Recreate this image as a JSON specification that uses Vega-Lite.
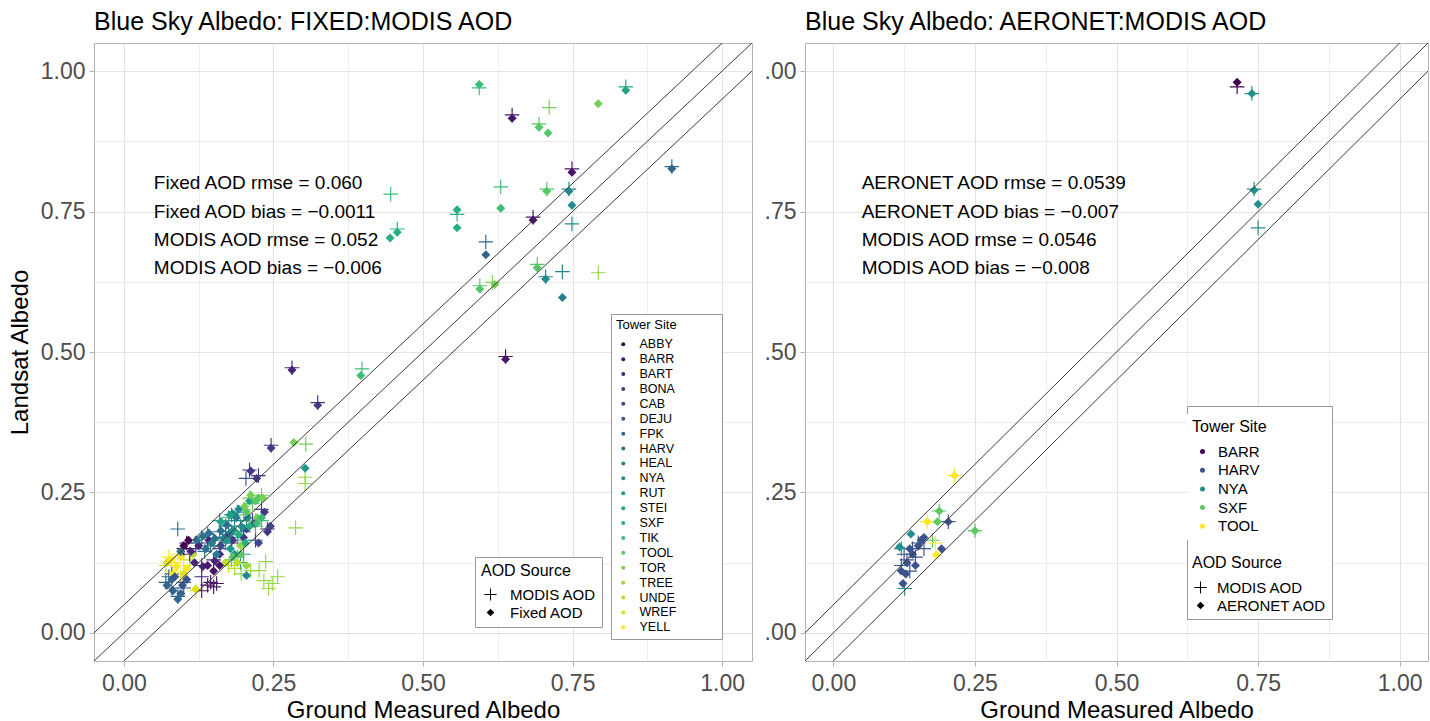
{
"$schema": "https://vega.github.io/schema/vega-lite/v6.json",
"background": "white",
"padding": {"left": 7, "top": 9, "right": 0, "bottom": 0},
"spacing": 10,
"config": {
  "font": "Liberation Sans",
  "view": {"stroke": "#b3b3b3", "strokeWidth": 1},
  "axis": {"domain": false, "tickColor": "#b3b3b3", "tickSize": 5, "labelPadding": 6, "labelFontSize": 23, "labelColor": "#4d4d4d", "titleFontSize": 24, "titleFontWeight": "normal", "titleColor": "black", "gridColor": "#e3e3e3", "labelOverlap": false, "labelFlush": false},
  "title": {"fontSize": 25, "fontWeight": "normal", "anchor": "start", "frame": "group", "color": "black", "offset": 8},
  "legend": {"titleFontWeight": "normal", "titleColor": "black", "labelColor": "black", "fillColor": "white"}
},
"resolve": {"scale": {"color": "independent", "shape": "independent"}, "legend": {"color": "independent", "shape": "independent"}},
"datasets": {
  "reflines": [
    {"x_start": -0.3, "y_start": -0.25, "x_end": 1.3, "y_end": 1.35},
    {"x_start": -0.3, "y_start": -0.3, "x_end": 1.3, "y_end": 1.3},
    {"x_start": -0.3, "y_start": -0.35, "x_end": 1.3, "y_end": 1.25}
  ],
  "leftNotes": [
    {"note": "Fixed AOD rmse = 0.060", "ground": 0.05, "landsat": 0.8},
    {"note": "Fixed AOD bias = −0.0011", "ground": 0.05, "landsat": 0.75},
    {"note": "MODIS AOD rmse = 0.052", "ground": 0.05, "landsat": 0.7},
    {"note": "MODIS AOD bias = −0.006", "ground": 0.05, "landsat": 0.65}
  ],
  "rightNotes": [
    {"note": "AERONET AOD rmse = 0.0539", "ground": 0.05, "landsat": 0.8},
    {"note": "AERONET AOD bias = −0.007", "ground": 0.05, "landsat": 0.75},
    {"note": "MODIS AOD rmse = 0.0546", "ground": 0.05, "landsat": 0.7},
    {"note": "MODIS AOD bias = −0.008", "ground": 0.05, "landsat": 0.65}
  ],
  "left": [
    {"site":"TIK","aod":"MODIS AOD","ground":0.594,"landsat":0.970},
    {"site":"TOR","aod":"MODIS AOD","ground":0.711,"landsat":0.935},
    {"site":"BARR","aod":"MODIS AOD","ground":0.649,"landsat":0.922},
    {"site":"TOOL","aod":"MODIS AOD","ground":0.694,"landsat":0.906},
    {"site":"STEI","aod":"MODIS AOD","ground":0.839,"landsat":0.972},
    {"site":"FPK","aod":"MODIS AOD","ground":0.916,"landsat":0.830},
    {"site":"BARR","aod":"MODIS AOD","ground":0.749,"landsat":0.826},
    {"site":"TIK","aod":"MODIS AOD","ground":0.630,"landsat":0.794},
    {"site":"TOOL","aod":"MODIS AOD","ground":0.707,"landsat":0.790},
    {"site":"NYA","aod":"MODIS AOD","ground":0.744,"landsat":0.790},
    {"site":"NYA","aod":"MODIS AOD","ground":0.749,"landsat":0.728},
    {"site":"BARR","aod":"MODIS AOD","ground":0.684,"landsat":0.740},
    {"site":"SXF","aod":"MODIS AOD","ground":0.557,"landsat":0.745},
    {"site":"FPK","aod":"MODIS AOD","ground":0.605,"landsat":0.696},
    {"site":"TOOL","aod":"MODIS AOD","ground":0.691,"landsat":0.656},
    {"site":"HEAL","aod":"MODIS AOD","ground":0.733,"landsat":0.643},
    {"site":"NYA","aod":"MODIS AOD","ground":0.705,"landsat":0.634},
    {"site":"TREE","aod":"MODIS AOD","ground":0.793,"landsat":0.641},
    {"site":"TOOL","aod":"MODIS AOD","ground":0.595,"landsat":0.618},
    {"site":"TOR","aod":"MODIS AOD","ground":0.616,"landsat":0.624},
    {"site":"BARR","aod":"MODIS AOD","ground":0.638,"landsat":0.492},
    {"site":"TIK","aod":"MODIS AOD","ground":0.446,"landsat":0.781},
    {"site":"SXF","aod":"MODIS AOD","ground":0.457,"landsat":0.719},
    {"site":"TIK","aod":"MODIS AOD","ground":0.398,"landsat":0.470},
    {"site":"BART","aod":"MODIS AOD","ground":0.281,"landsat":0.472},
    {"site":"BONA","aod":"MODIS AOD","ground":0.324,"landsat":0.410},
    {"site":"BONA","aod":"MODIS AOD","ground":0.246,"landsat":0.334},
    {"site":"TOR","aod":"MODIS AOD","ground":0.304,"landsat":0.336},
    {"site":"TREE","aod":"MODIS AOD","ground":0.303,"landsat":0.277},
    {"site":"TREE","aod":"MODIS AOD","ground":0.303,"landsat":0.266},
    {"site":"TREE","aod":"MODIS AOD","ground":0.287,"landsat":0.187},
    {"site":"YELL","aod":"MODIS AOD","ground":0.075,"landsat":0.135},
    {"site":"YELL","aod":"MODIS AOD","ground":0.085,"landsat":0.125},
    {"site":"YELL","aod":"MODIS AOD","ground":0.09,"landsat":0.14},
    {"site":"YELL","aod":"MODIS AOD","ground":0.08,"landsat":0.11},
    {"site":"YELL","aod":"MODIS AOD","ground":0.10,"landsat":0.12},
    {"site":"WREF","aod":"MODIS AOD","ground":0.07,"landsat":0.12},
    {"site":"WREF","aod":"MODIS AOD","ground":0.095,"landsat":0.10},
    {"site":"WREF","aod":"MODIS AOD","ground":0.12,"landsat":0.075},
    {"site":"UNDE","aod":"MODIS AOD","ground":0.11,"landsat":0.13},
    {"site":"UNDE","aod":"MODIS AOD","ground":0.175,"landsat":0.12},
    {"site":"UNDE","aod":"MODIS AOD","ground":0.185,"landsat":0.115},
    {"site":"FPK","aod":"MODIS AOD","ground":0.07,"landsat":0.09},
    {"site":"FPK","aod":"MODIS AOD","ground":0.08,"landsat":0.08},
    {"site":"FPK","aod":"MODIS AOD","ground":0.09,"landsat":0.065},
    {"site":"FPK","aod":"MODIS AOD","ground":0.075,"landsat":0.10},
    {"site":"DEJU","aod":"MODIS AOD","ground":0.08,"landsat":0.105},
    {"site":"DEJU","aod":"MODIS AOD","ground":0.10,"landsat":0.09},
    {"site":"DEJU","aod":"MODIS AOD","ground":0.10,"landsat":0.08},
    {"site":"BART","aod":"MODIS AOD","ground":0.11,"landsat":0.14},
    {"site":"BART","aod":"MODIS AOD","ground":0.12,"landsat":0.15},
    {"site":"BART","aod":"MODIS AOD","ground":0.13,"landsat":0.12},
    {"site":"BART","aod":"MODIS AOD","ground":0.14,"landsat":0.16},
    {"site":"BART","aod":"MODIS AOD","ground":0.15,"landsat":0.13},
    {"site":"BART","aod":"MODIS AOD","ground":0.13,"landsat":0.10},
    {"site":"BARR","aod":"MODIS AOD","ground":0.14,"landsat":0.085},
    {"site":"BARR","aod":"MODIS AOD","ground":0.15,"landsat":0.082},
    {"site":"BARR","aod":"MODIS AOD","ground":0.13,"landsat":0.075},
    {"site":"BARR","aod":"MODIS AOD","ground":0.155,"landsat":0.088},
    {"site":"BARR","aod":"MODIS AOD","ground":0.145,"landsat":0.09},
    {"site":"ABBY","aod":"MODIS AOD","ground":0.10,"landsat":0.15},
    {"site":"ABBY","aod":"MODIS AOD","ground":0.105,"landsat":0.16},
    {"site":"BONA","aod":"MODIS AOD","ground":0.21,"landsat":0.29},
    {"site":"BONA","aod":"MODIS AOD","ground":0.225,"landsat":0.28},
    {"site":"BONA","aod":"MODIS AOD","ground":0.23,"landsat":0.22},
    {"site":"BONA","aod":"MODIS AOD","ground":0.215,"landsat":0.2},
    {"site":"BONA","aod":"MODIS AOD","ground":0.24,"landsat":0.185},
    {"site":"BONA","aod":"MODIS AOD","ground":0.18,"landsat":0.16},
    {"site":"DEJU","aod":"MODIS AOD","ground":0.204,"landsat":0.275},
    {"site":"CAB","aod":"MODIS AOD","ground":0.16,"landsat":0.15},
    {"site":"CAB","aod":"MODIS AOD","ground":0.17,"landsat":0.17},
    {"site":"CAB","aod":"MODIS AOD","ground":0.2,"landsat":0.18},
    {"site":"CAB","aod":"MODIS AOD","ground":0.22,"landsat":0.165},
    {"site":"HARV","aod":"MODIS AOD","ground":0.12,"landsat":0.16},
    {"site":"HARV","aod":"MODIS AOD","ground":0.13,"landsat":0.17},
    {"site":"HARV","aod":"MODIS AOD","ground":0.14,"landsat":0.175},
    {"site":"HARV","aod":"MODIS AOD","ground":0.15,"landsat":0.165},
    {"site":"HARV","aod":"MODIS AOD","ground":0.16,"landsat":0.18},
    {"site":"HARV","aod":"MODIS AOD","ground":0.17,"landsat":0.19},
    {"site":"HARV","aod":"MODIS AOD","ground":0.135,"landsat":0.145},
    {"site":"HARV","aod":"MODIS AOD","ground":0.09,"landsat":0.185},
    {"site":"HEAL","aod":"MODIS AOD","ground":0.145,"landsat":0.155},
    {"site":"HEAL","aod":"MODIS AOD","ground":0.165,"landsat":0.17},
    {"site":"HEAL","aod":"MODIS AOD","ground":0.175,"landsat":0.175},
    {"site":"HEAL","aod":"MODIS AOD","ground":0.185,"landsat":0.2},
    {"site":"NYA","aod":"MODIS AOD","ground":0.18,"landsat":0.21},
    {"site":"NYA","aod":"MODIS AOD","ground":0.19,"landsat":0.215},
    {"site":"NYA","aod":"MODIS AOD","ground":0.195,"landsat":0.19},
    {"site":"NYA","aod":"MODIS AOD","ground":0.205,"landsat":0.2},
    {"site":"RUT","aod":"MODIS AOD","ground":0.17,"landsat":0.16},
    {"site":"RUT","aod":"MODIS AOD","ground":0.18,"landsat":0.18},
    {"site":"RUT","aod":"MODIS AOD","ground":0.2,"landsat":0.14},
    {"site":"RUT","aod":"MODIS AOD","ground":0.195,"landsat":0.125},
    {"site":"STEI","aod":"MODIS AOD","ground":0.16,"landsat":0.2},
    {"site":"STEI","aod":"MODIS AOD","ground":0.175,"landsat":0.205},
    {"site":"TOOL","aod":"MODIS AOD","ground":0.18,"landsat":0.13},
    {"site":"TOOL","aod":"MODIS AOD","ground":0.19,"landsat":0.135},
    {"site":"TOOL","aod":"MODIS AOD","ground":0.2,"landsat":0.21},
    {"site":"TOOL","aod":"MODIS AOD","ground":0.215,"landsat":0.23},
    {"site":"TOR","aod":"MODIS AOD","ground":0.2,"landsat":0.22},
    {"site":"TOR","aod":"MODIS AOD","ground":0.21,"landsat":0.24},
    {"site":"TOR","aod":"MODIS AOD","ground":0.23,"landsat":0.245},
    {"site":"TOR","aod":"MODIS AOD","ground":0.22,"landsat":0.2},
    {"site":"TREE","aod":"MODIS AOD","ground":0.237,"landsat":0.127},
    {"site":"TREE","aod":"MODIS AOD","ground":0.226,"landsat":0.111},
    {"site":"TREE","aod":"MODIS AOD","ground":0.234,"landsat":0.093},
    {"site":"TREE","aod":"MODIS AOD","ground":0.248,"landsat":0.088},
    {"site":"TREE","aod":"MODIS AOD","ground":0.212,"landsat":0.111},
    {"site":"TREE","aod":"MODIS AOD","ground":0.196,"landsat":0.105},
    {"site":"TREE","aod":"MODIS AOD","ground":0.242,"landsat":0.079},
    {"site":"TREE","aod":"MODIS AOD","ground":0.257,"landsat":0.10},
    {"site":"SXF","aod":"MODIS AOD","ground":0.19,"landsat":0.17},
    {"site":"SXF","aod":"MODIS AOD","ground":0.2,"landsat":0.165},
    {"site":"TIK","aod":"MODIS AOD","ground":0.22,"landsat":0.19},
    {"site":"TIK","aod":"MODIS AOD","ground":0.23,"landsat":0.2},
    {"site":"TIK","aod":"Fixed AOD","ground":0.594,"landsat":0.976},
    {"site":"BARR","aod":"Fixed AOD","ground":0.649,"landsat":0.916},
    {"site":"TOOL","aod":"Fixed AOD","ground":0.694,"landsat":0.900},
    {"site":"TOOL","aod":"Fixed AOD","ground":0.709,"landsat":0.890},
    {"site":"TOR","aod":"Fixed AOD","ground":0.793,"landsat":0.942},
    {"site":"STEI","aod":"Fixed AOD","ground":0.839,"landsat":0.966},
    {"site":"FPK","aod":"Fixed AOD","ground":0.916,"landsat":0.826},
    {"site":"BARR","aod":"Fixed AOD","ground":0.749,"landsat":0.820},
    {"site":"TIK","aod":"Fixed AOD","ground":0.630,"landsat":0.756},
    {"site":"TOOL","aod":"Fixed AOD","ground":0.707,"landsat":0.786},
    {"site":"NYA","aod":"Fixed AOD","ground":0.744,"landsat":0.786},
    {"site":"NYA","aod":"Fixed AOD","ground":0.749,"landsat":0.761},
    {"site":"BARR","aod":"Fixed AOD","ground":0.684,"landsat":0.735},
    {"site":"SXF","aod":"Fixed AOD","ground":0.557,"landsat":0.753},
    {"site":"SXF","aod":"Fixed AOD","ground":0.557,"landsat":0.721},
    {"site":"FPK","aod":"Fixed AOD","ground":0.605,"landsat":0.673},
    {"site":"TOOL","aod":"Fixed AOD","ground":0.691,"landsat":0.650},
    {"site":"NYA","aod":"Fixed AOD","ground":0.705,"landsat":0.630},
    {"site":"HEAL","aod":"Fixed AOD","ground":0.733,"landsat":0.597},
    {"site":"TOOL","aod":"Fixed AOD","ground":0.595,"landsat":0.612},
    {"site":"TOR","aod":"Fixed AOD","ground":0.620,"landsat":0.620},
    {"site":"BARR","aod":"Fixed AOD","ground":0.638,"landsat":0.487},
    {"site":"SXF","aod":"Fixed AOD","ground":0.457,"landsat":0.713},
    {"site":"SXF","aod":"Fixed AOD","ground":0.445,"landsat":0.703},
    {"site":"TIK","aod":"Fixed AOD","ground":0.396,"landsat":0.458},
    {"site":"BART","aod":"Fixed AOD","ground":0.281,"landsat":0.468},
    {"site":"BONA","aod":"Fixed AOD","ground":0.324,"landsat":0.405},
    {"site":"BONA","aod":"Fixed AOD","ground":0.246,"landsat":0.329},
    {"site":"TOR","aod":"Fixed AOD","ground":0.284,"landsat":0.339},
    {"site":"RUT","aod":"Fixed AOD","ground":0.303,"landsat":0.293},
    {"site":"YELL","aod":"Fixed AOD","ground":0.078,"landsat":0.13},
    {"site":"YELL","aod":"Fixed AOD","ground":0.088,"landsat":0.118},
    {"site":"YELL","aod":"Fixed AOD","ground":0.095,"landsat":0.135},
    {"site":"YELL","aod":"Fixed AOD","ground":0.083,"landsat":0.105},
    {"site":"YELL","aod":"Fixed AOD","ground":0.105,"landsat":0.115},
    {"site":"WREF","aod":"Fixed AOD","ground":0.072,"landsat":0.125},
    {"site":"WREF","aod":"Fixed AOD","ground":0.10,"landsat":0.105},
    {"site":"WREF","aod":"Fixed AOD","ground":0.12,"landsat":0.078},
    {"site":"UNDE","aod":"Fixed AOD","ground":0.115,"landsat":0.14},
    {"site":"UNDE","aod":"Fixed AOD","ground":0.17,"landsat":0.125},
    {"site":"UNDE","aod":"Fixed AOD","ground":0.19,"landsat":0.125},
    {"site":"FPK","aod":"Fixed AOD","ground":0.072,"landsat":0.085},
    {"site":"FPK","aod":"Fixed AOD","ground":0.082,"landsat":0.075},
    {"site":"FPK","aod":"Fixed AOD","ground":0.09,"landsat":0.06},
    {"site":"FPK","aod":"Fixed AOD","ground":0.08,"landsat":0.095},
    {"site":"FPK","aod":"Fixed AOD","ground":0.095,"landsat":0.07},
    {"site":"DEJU","aod":"Fixed AOD","ground":0.085,"landsat":0.1},
    {"site":"DEJU","aod":"Fixed AOD","ground":0.098,"landsat":0.085},
    {"site":"DEJU","aod":"Fixed AOD","ground":0.105,"landsat":0.095},
    {"site":"BART","aod":"Fixed AOD","ground":0.112,"landsat":0.145},
    {"site":"BART","aod":"Fixed AOD","ground":0.125,"landsat":0.155},
    {"site":"BART","aod":"Fixed AOD","ground":0.132,"landsat":0.118},
    {"site":"BART","aod":"Fixed AOD","ground":0.142,"landsat":0.165},
    {"site":"BART","aod":"Fixed AOD","ground":0.152,"landsat":0.128},
    {"site":"BART","aod":"Fixed AOD","ground":0.16,"landsat":0.14},
    {"site":"BART","aod":"Fixed AOD","ground":0.118,"landsat":0.125},
    {"site":"BARR","aod":"Fixed AOD","ground":0.14,"landsat":0.12},
    {"site":"BARR","aod":"Fixed AOD","ground":0.15,"landsat":0.11},
    {"site":"BARR","aod":"Fixed AOD","ground":0.16,"landsat":0.12},
    {"site":"ABBY","aod":"Fixed AOD","ground":0.10,"landsat":0.155},
    {"site":"ABBY","aod":"Fixed AOD","ground":0.108,"landsat":0.165},
    {"site":"BONA","aod":"Fixed AOD","ground":0.212,"landsat":0.288},
    {"site":"BONA","aod":"Fixed AOD","ground":0.222,"landsat":0.275},
    {"site":"BONA","aod":"Fixed AOD","ground":0.235,"landsat":0.215},
    {"site":"BONA","aod":"Fixed AOD","ground":0.218,"landsat":0.195},
    {"site":"BONA","aod":"Fixed AOD","ground":0.24,"landsat":0.18},
    {"site":"BONA","aod":"Fixed AOD","ground":0.182,"landsat":0.165},
    {"site":"BONA","aod":"Fixed AOD","ground":0.2,"landsat":0.17},
    {"site":"CAB","aod":"Fixed AOD","ground":0.162,"landsat":0.155},
    {"site":"CAB","aod":"Fixed AOD","ground":0.172,"landsat":0.172},
    {"site":"CAB","aod":"Fixed AOD","ground":0.205,"landsat":0.185},
    {"site":"CAB","aod":"Fixed AOD","ground":0.225,"landsat":0.16},
    {"site":"CAB","aod":"Fixed AOD","ground":0.245,"landsat":0.19},
    {"site":"HARV","aod":"Fixed AOD","ground":0.122,"landsat":0.165},
    {"site":"HARV","aod":"Fixed AOD","ground":0.132,"landsat":0.172},
    {"site":"HARV","aod":"Fixed AOD","ground":0.142,"landsat":0.178},
    {"site":"HARV","aod":"Fixed AOD","ground":0.152,"landsat":0.168},
    {"site":"HARV","aod":"Fixed AOD","ground":0.162,"landsat":0.182},
    {"site":"HARV","aod":"Fixed AOD","ground":0.172,"landsat":0.192},
    {"site":"HARV","aod":"Fixed AOD","ground":0.137,"landsat":0.15},
    {"site":"HARV","aod":"Fixed AOD","ground":0.095,"landsat":0.145},
    {"site":"HEAL","aod":"Fixed AOD","ground":0.147,"landsat":0.16},
    {"site":"HEAL","aod":"Fixed AOD","ground":0.167,"landsat":0.168},
    {"site":"HEAL","aod":"Fixed AOD","ground":0.178,"landsat":0.178},
    {"site":"HEAL","aod":"Fixed AOD","ground":0.188,"landsat":0.205},
    {"site":"HEAL","aod":"Fixed AOD","ground":0.155,"landsat":0.14},
    {"site":"NYA","aod":"Fixed AOD","ground":0.182,"landsat":0.212},
    {"site":"NYA","aod":"Fixed AOD","ground":0.192,"landsat":0.22},
    {"site":"NYA","aod":"Fixed AOD","ground":0.198,"landsat":0.188},
    {"site":"NYA","aod":"Fixed AOD","ground":0.207,"landsat":0.205},
    {"site":"NYA","aod":"Fixed AOD","ground":0.205,"landsat":0.102},
    {"site":"RUT","aod":"Fixed AOD","ground":0.172,"landsat":0.165},
    {"site":"RUT","aod":"Fixed AOD","ground":0.183,"landsat":0.183},
    {"site":"RUT","aod":"Fixed AOD","ground":0.178,"landsat":0.15},
    {"site":"RUT","aod":"Fixed AOD","ground":0.185,"landsat":0.14},
    {"site":"STEI","aod":"Fixed AOD","ground":0.162,"landsat":0.198},
    {"site":"STEI","aod":"Fixed AOD","ground":0.177,"landsat":0.21},
    {"site":"STEI","aod":"Fixed AOD","ground":0.21,"landsat":0.235},
    {"site":"TOOL","aod":"Fixed AOD","ground":0.182,"landsat":0.135},
    {"site":"TOOL","aod":"Fixed AOD","ground":0.195,"landsat":0.14},
    {"site":"TOOL","aod":"Fixed AOD","ground":0.205,"landsat":0.215},
    {"site":"TOOL","aod":"Fixed AOD","ground":0.22,"landsat":0.235},
    {"site":"TOOL","aod":"Fixed AOD","ground":0.225,"landsat":0.24},
    {"site":"TOR","aod":"Fixed AOD","ground":0.202,"landsat":0.225},
    {"site":"TOR","aod":"Fixed AOD","ground":0.212,"landsat":0.245},
    {"site":"TOR","aod":"Fixed AOD","ground":0.232,"landsat":0.24},
    {"site":"TOR","aod":"Fixed AOD","ground":0.223,"landsat":0.205},
    {"site":"TREE","aod":"Fixed AOD","ground":0.205,"landsat":0.12},
    {"site":"TREE","aod":"Fixed AOD","ground":0.195,"landsat":0.155},
    {"site":"SXF","aod":"Fixed AOD","ground":0.192,"landsat":0.175},
    {"site":"SXF","aod":"Fixed AOD","ground":0.203,"landsat":0.16},
    {"site":"SXF","aod":"Fixed AOD","ground":0.21,"landsat":0.19},
    {"site":"TIK","aod":"Fixed AOD","ground":0.222,"landsat":0.195},
    {"site":"TIK","aod":"Fixed AOD","ground":0.23,"landsat":0.205}
  ],
  "right": [
    {"site":"BARR","aod":"MODIS AOD","ground":0.713,"landsat":0.972},
    {"site":"NYA","aod":"MODIS AOD","ground":0.739,"landsat":0.960},
    {"site":"NYA","aod":"MODIS AOD","ground":0.743,"landsat":0.790},
    {"site":"NYA","aod":"MODIS AOD","ground":0.750,"landsat":0.721},
    {"site":"TOOL","aod":"MODIS AOD","ground":0.214,"landsat":0.280},
    {"site":"SXF","aod":"MODIS AOD","ground":0.187,"landsat":0.217},
    {"site":"SXF","aod":"MODIS AOD","ground":0.250,"landsat":0.182},
    {"site":"SXF","aod":"MODIS AOD","ground":0.175,"landsat":0.165},
    {"site":"TOOL","aod":"MODIS AOD","ground":0.166,"landsat":0.198},
    {"site":"TOOL","aod":"MODIS AOD","ground":0.180,"landsat":0.160},
    {"site":"HARV","aod":"MODIS AOD","ground":0.203,"landsat":0.198},
    {"site":"HARV","aod":"MODIS AOD","ground":0.130,"landsat":0.130},
    {"site":"HARV","aod":"MODIS AOD","ground":0.140,"landsat":0.150},
    {"site":"HARV","aod":"MODIS AOD","ground":0.150,"landsat":0.160},
    {"site":"HARV","aod":"MODIS AOD","ground":0.120,"landsat":0.120},
    {"site":"HARV","aod":"MODIS AOD","ground":0.135,"landsat":0.110},
    {"site":"HARV","aod":"MODIS AOD","ground":0.160,"landsat":0.150},
    {"site":"HARV","aod":"MODIS AOD","ground":0.145,"landsat":0.135},
    {"site":"HARV","aod":"MODIS AOD","ground":0.125,"landsat":0.140},
    {"site":"NYA","aod":"MODIS AOD","ground":0.126,"landsat":0.079},
    {"site":"NYA","aod":"MODIS AOD","ground":0.120,"landsat":0.150},
    {"site":"BARR","aod":"AERONET AOD","ground":0.713,"landsat":0.980},
    {"site":"NYA","aod":"AERONET AOD","ground":0.739,"landsat":0.960},
    {"site":"NYA","aod":"AERONET AOD","ground":0.743,"landsat":0.788},
    {"site":"NYA","aod":"AERONET AOD","ground":0.750,"landsat":0.763},
    {"site":"TOOL","aod":"AERONET AOD","ground":0.214,"landsat":0.280},
    {"site":"TOOL","aod":"AERONET AOD","ground":0.166,"landsat":0.198},
    {"site":"TOOL","aod":"AERONET AOD","ground":0.182,"landsat":0.139},
    {"site":"SXF","aod":"AERONET AOD","ground":0.187,"landsat":0.217},
    {"site":"SXF","aod":"AERONET AOD","ground":0.184,"landsat":0.198},
    {"site":"SXF","aod":"AERONET AOD","ground":0.250,"landsat":0.182},
    {"site":"HARV","aod":"AERONET AOD","ground":0.203,"landsat":0.198},
    {"site":"HARV","aod":"AERONET AOD","ground":0.191,"landsat":0.150},
    {"site":"HARV","aod":"AERONET AOD","ground":0.123,"landsat":0.088},
    {"site":"HARV","aod":"AERONET AOD","ground":0.130,"landsat":0.125},
    {"site":"HARV","aod":"AERONET AOD","ground":0.140,"landsat":0.140},
    {"site":"HARV","aod":"AERONET AOD","ground":0.150,"landsat":0.155},
    {"site":"HARV","aod":"AERONET AOD","ground":0.155,"landsat":0.165},
    {"site":"HARV","aod":"AERONET AOD","ground":0.120,"landsat":0.110},
    {"site":"HARV","aod":"AERONET AOD","ground":0.135,"landsat":0.150},
    {"site":"HARV","aod":"AERONET AOD","ground":0.160,"landsat":0.170},
    {"site":"HARV","aod":"AERONET AOD","ground":0.145,"landsat":0.120},
    {"site":"HARV","aod":"AERONET AOD","ground":0.128,"landsat":0.105},
    {"site":"NYA","aod":"AERONET AOD","ground":0.137,"landsat":0.176},
    {"site":"NYA","aod":"AERONET AOD","ground":0.117,"landsat":0.153}
  ]
},
"hconcat": [
  {
    "width": 658, "height": 618,
    "title": "Blue Sky Albedo: FIXED:MODIS AOD",
    "layer": [
      {
        "data": {"name": "left"},
        "mark": {"type": "point", "filled": true, "opacity": 1, "size": 210, "strokeWidth": 0},
        "encoding": {
          "x": {"field": "ground", "type": "quantitative", "title": "Ground Measured Albedo",
                "scale": {"domain": [-0.05, 1.05], "nice": false, "zero": false},
                "axis": {"values": [0, 0.125, 0.25, 0.375, 0.5, 0.625, 0.75, 0.875, 1], "labelExpr": "datum.value * 4 % 1 === 0 ? format(datum.value, '.2f') : ''",
                         "tickOpacity": {"condition": {"test": "datum.value * 4 % 1 === 0", "value": 1}, "value": 0},
                         "gridWidth": {"condition": {"test": "datum.value * 4 % 1 === 0", "value": 1.1}, "value": 0.6}, "titlePadding": 3.5}},
          "y": {"field": "landsat", "type": "quantitative", "title": "Landsat Albedo",
                "scale": {"domain": [-0.05, 1.05], "nice": false, "zero": false},
                "axis": {"values": [0, 0.125, 0.25, 0.375, 0.5, 0.625, 0.75, 0.875, 1], "labelExpr": "datum.value * 4 % 1 === 0 ? format(datum.value, '.2f') : ''",
                         "tickOpacity": {"condition": {"test": "datum.value * 4 % 1 === 0", "value": 1}, "value": 0},
                         "gridWidth": {"condition": {"test": "datum.value * 4 % 1 === 0", "value": 1.1}, "value": 0.6}, "labelPadding": 4, "titlePadding": 8}},
          "color": {"field": "site", "type": "nominal", "title": "Tower Site\u2800\u2800\u2800\u2800",
                    "scale": {"domain": ["ABBY","BARR","BART","BONA","CAB","DEJU","FPK","HARV","HEAL","NYA","RUT","STEI","SXF","TIK","TOOL","TOR","TREE","UNDE","WREF","YELL"],
                              "range": ["#440154","#481568","#482677","#453781","#3F4788","#39558C","#32648E","#2D718E","#287D8E","#238A8D","#1F968B","#20A386","#29AF7F","#3CBC75","#56C667","#75D054","#95D840","#BADE28","#DDE318","#FDE725"]},
                    "legend": {"orient": "none", "legendX": 517, "legendY": 271, "direction": "vertical", "columns": 1, "strokeColor": "#999999", "padding": 5,
                               "titleFontSize": 13, "labelFontSize": 12.5, "symbolType": "circle", "symbolSize": 16, "symbolStrokeWidth": 0,
                               "rowPadding": 1.9, "titlePadding": 6, "symbolOffset": 1, "labelOffset": 10, "zindex": 1}},
          "shape": {"field": "aod", "type": "nominal", "title": "AOD Source",
                    "scale": {"domain": ["MODIS AOD", "Fixed AOD"], "range": ["M-1,-0.08H1V0.08H-1Z M-0.08,-1H0.08V1H-0.08Z", "M0,-0.62L0.62,0L0,0.62L-0.62,0Z"]},
                    "legend": {"orient": "none", "legendX": 381, "legendY": 514, "direction": "vertical", "strokeColor": "#999999", "padding": 6,
                               "titleFontSize": 16, "labelFontSize": 15, "symbolSize": 150, "symbolFillColor": "black", "symbolStrokeWidth": 0,
                               "rowPadding": 2, "titlePadding": 8, "symbolOffset": 2, "labelOffset": 12, "zindex": 1}}
        }
      },
      {
        "data": {"name": "reflines"},
        "mark": {"type": "rule", "clip": true, "color": "#3a3a3a", "strokeWidth": 1},
        "encoding": {
          "x": {"field": "x_start", "type": "quantitative", "scale": {"domain": [-0.05, 1.05], "nice": false, "zero": false}},
          "y": {"field": "y_start", "type": "quantitative", "scale": {"domain": [-0.05, 1.05], "nice": false, "zero": false}},
          "x2": {"field": "x_end"},
          "y2": {"field": "y_end"}
        }
      },
      {
        "data": {"name": "leftNotes"},
        "mark": {"type": "text", "align": "left", "baseline": "middle", "fontSize": 19, "color": "black"},
        "encoding": {
          "x": {"field": "ground", "type": "quantitative"},
          "y": {"field": "landsat", "type": "quantitative"},
          "text": {"field": "note"}
        }
      }
    ]
  },
  {
    "width": 623, "height": 618,
    "title": "Blue Sky Albedo: AERONET:MODIS AOD",
    "layer": [
      {
        "data": {"name": "right"},
        "mark": {"type": "point", "filled": true, "opacity": 1, "size": 210, "strokeWidth": 0},
        "encoding": {
          "x": {"field": "ground", "type": "quantitative", "title": "Ground Measured Albedo",
                "scale": {"domain": [-0.05, 1.05], "nice": false, "zero": false},
                "axis": {"values": [0, 0.125, 0.25, 0.375, 0.5, 0.625, 0.75, 0.875, 1], "labelExpr": "datum.value * 4 % 1 === 0 ? format(datum.value, '.2f') : ''",
                         "tickOpacity": {"condition": {"test": "datum.value * 4 % 1 === 0", "value": 1}, "value": 0},
                         "gridWidth": {"condition": {"test": "datum.value * 4 % 1 === 0", "value": 1.1}, "value": 0.6}, "titlePadding": 3.5}},
          "y": {"field": "landsat", "type": "quantitative", "title": null,
                "scale": {"domain": [-0.05, 1.05], "nice": false, "zero": false},
                "axis": {"values": [0, 0.125, 0.25, 0.375, 0.5, 0.625, 0.75, 0.875, 1], "labelExpr": "datum.value * 4 % 1 === 0 ? substring(format(datum.value, '.2f'), 1) : ''",
                         "tickOpacity": {"condition": {"test": "datum.value * 4 % 1 === 0", "value": 1}, "value": 0},
                         "gridWidth": {"condition": {"test": "datum.value * 4 % 1 === 0", "value": 1.1}, "value": 0.6}, "labelPadding": 4}},
          "color": {"field": "site", "type": "nominal", "title": "Tower Site",
                    "scale": {"domain": ["BARR","HARV","NYA","SXF","TOOL"], "range": ["#440154","#3B528B","#21908C","#5DC863","#FDE725"]},
                    "legend": {"orient": "none", "legendX": 382, "legendY": 371, "direction": "vertical", "columns": 1, "strokeColor": null, "fillColor": null, "padding": 5,
                               "titleFontSize": 16, "labelFontSize": 15, "symbolType": "circle", "symbolSize": 25, "symbolStrokeWidth": 0,
                               "rowPadding": 2.7, "titlePadding": 9, "symbolOffset": 3, "labelOffset": 8, "zindex": 2}},
          "shape": {"field": "aod", "type": "nominal", "title": "AOD Source",
                    "scale": {"domain": ["MODIS AOD", "AERONET AOD"], "range": ["M-1,-0.08H1V0.08H-1Z M-0.08,-1H0.08V1H-0.08Z", "M0,-0.62L0.62,0L0,0.62L-0.62,0Z"]},
                    "legend": {"orient": "none", "legendX": 382, "legendY": 363, "direction": "vertical", "strokeColor": "#999999", "padding": 5,
                               "titleFontSize": 16, "titleBaseline": "line-top", "titleLineHeight": 304, "labelFontSize": 15, "symbolSize": 150, "symbolFillColor": "black", "symbolStrokeWidth": 0,
                               "rowPadding": 2, "titlePadding": 153, "symbolOffset": 1, "labelOffset": 9, "zindex": 1}}
        }
      },
      {
        "data": {"name": "reflines"},
        "mark": {"type": "rule", "clip": true, "color": "#3a3a3a", "strokeWidth": 1},
        "encoding": {
          "x": {"field": "x_start", "type": "quantitative", "scale": {"domain": [-0.05, 1.05], "nice": false, "zero": false}},
          "y": {"field": "y_start", "type": "quantitative", "scale": {"domain": [-0.05, 1.05], "nice": false, "zero": false}},
          "x2": {"field": "x_end"},
          "y2": {"field": "y_end"}
        }
      },
      {
        "data": {"name": "rightNotes"},
        "mark": {"type": "text", "align": "left", "baseline": "middle", "fontSize": 19, "color": "black"},
        "encoding": {
          "x": {"field": "ground", "type": "quantitative"},
          "y": {"field": "landsat", "type": "quantitative"},
          "text": {"field": "note"}
        }
      }
    ]
  }
]
}
